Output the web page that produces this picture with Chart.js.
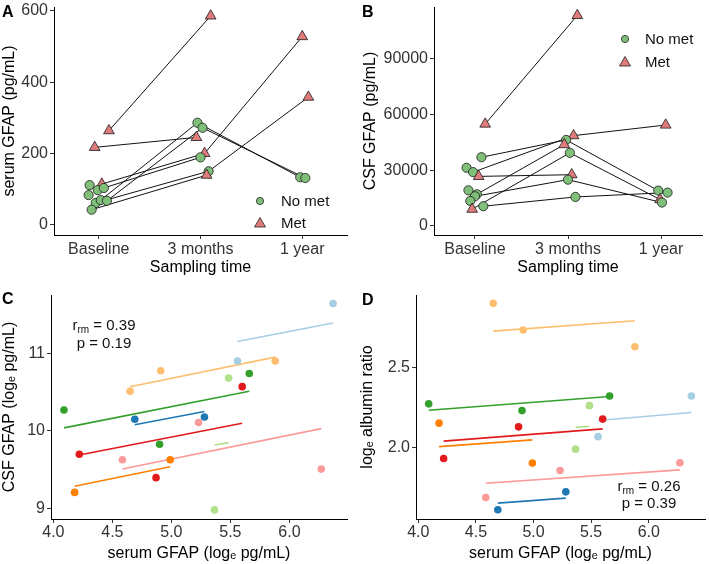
<!DOCTYPE html>
<html>
<head>
<meta charset="utf-8">
<script src="https://cdn.jsdelivr.net/npm/chart.js@4.4.1/dist/chart.umd.min.js"></script>
<style>
  body { margin: 0; width: 709px; height: 564px; position: relative; background: #fff; overflow: hidden;
         font-family: 'Liberation Sans', Arial, Helvetica, sans-serif; color: #111; }
  canvas { position: absolute; }
  .tag { position: absolute; font-weight: bold; font-size: 16px; line-height: 16px; color: #000; }
  .txt { position: absolute; font-size: 15px; line-height: 18px; white-space: nowrap; color: #111; }
  .note { position: absolute; font-size: 15px; line-height: 18px; text-align: center; color: #111; }
  .note sub { font-size: 10px; line-height: 0; vertical-align: -3px; }
  .mk { position: absolute; }
</style>
</head>
<body>
<canvas id="chartA" width="354" height="290" style="left:0;top:0"></canvas>
<canvas id="chartB" width="355" height="290" style="left:354px;top:0"></canvas>
<canvas id="chartC" width="354" height="274" style="left:0;top:290px"></canvas>
<canvas id="chartD" width="355" height="274" style="left:354px;top:290px"></canvas>

<div class="tag" style="left:2px;top:4px">A</div>
<div class="tag" style="left:362px;top:4px">B</div>
<div class="tag" style="left:2px;top:291px">C</div>
<div class="tag" style="left:362px;top:292px">D</div>

<!-- legends -->
<svg class="mk" style="left:253px;top:194px" width="14" height="14"><circle cx="7" cy="7" r="3.6" fill="#80bf7a" stroke="#222" stroke-width="0.8"/></svg>
<div class="txt" style="left:281px;top:192px">No met</div>
<svg class="mk" style="left:253px;top:216px" width="14" height="14"><polygon points="7,1.5 12.5,11 1.5,11" fill="#df7b7b" stroke="#222" stroke-width="0.8"/></svg>
<div class="txt" style="left:281px;top:214px">Met</div>

<svg class="mk" style="left:618px;top:32px" width="14" height="14"><circle cx="7" cy="7" r="3.6" fill="#80bf7a" stroke="#222" stroke-width="0.8"/></svg>
<div class="txt" style="left:645px;top:30px">No met</div>
<svg class="mk" style="left:618px;top:55px" width="14" height="14"><polygon points="7,1.5 12.5,11 1.5,11" fill="#df7b7b" stroke="#222" stroke-width="0.8"/></svg>
<div class="txt" style="left:645px;top:53px">Met</div>

<!-- repeated-measures correlation notes -->
<div class="note" style="left:54px;top:316px;width:100px">r<sub>rm</sub> = 0.39<br>p = 0.19</div>
<div class="note" style="left:599px;top:477px;width:100px;line-height:17px">r<sub>rm</sub> = 0.26<br>p = 0.39</div>

<script>
const timeLabels = ['Baseline', '3 months', '1 year'];

// A: serum GFAP (pg/mL); x = sampling time incl. jitter, patient 0 = single sample
const serumTime    = [1.10, 0.96, 1.03, 0.91, 0.90, 0.99, 1.05, 0.97, 1.02, 1.08, 0.93,
                      2.10, 1.97, 2.02, 1.96, 2.04, 2.00, 2.08, 2.06,
                      3.00, 3.06, 2.98, 3.03];
const serumValue   = [264, 217, 114, 111, 83, 97, 103, 61, 69, 67, 42,
                      586, 286, 272, 245, 200, 189, 150, 139,
                      528, 358, 133, 131];
const serumMet     = [1, 1, 1, 0, 0, 0, 0, 0, 0, 0, 0,
                      1, 0, 0, 1, 1, 0, 0, 1,
                      1, 1, 0, 0];
const serumPatient = [1, 2, 5, 0, 0, 0, 6, 7, 3, 4, 8,
                      1, 3, 4, 2, 5, 6, 7, 8,
                      5, 7, 3, 4];

// B: CSF GFAP (pg/mL)
const csfTime    = [1.11, 1.07, 0.91, 0.98, 1.04, 0.93, 1.02, 1.00, 0.95, 0.97, 1.09,
                    2.10, 2.06, 1.98, 1.96, 2.02, 2.04, 2.00, 2.08,
                    3.05, 2.97, 3.07, 2.99, 3.01];
const csfValue   = [54850, 36960, 31280, 28930, 26620, 19120, 16980, 15910, 13390, 8950, 10550,
                    113400, 48590, 46290, 43770, 39320, 27530, 24860, 15540,
                    54320, 18960, 17890, 14140, 12530];
const csfMet     = [1, 0, 0, 0, 1, 0, 0, 0, 0, 1, 0,
                    1, 1, 0, 1, 0, 1, 0, 0,
                    1, 0, 0, 1, 0];
const csfPatient = [1, 2, 0, 3, 4, 0, 5, 7, 0, 6, 8,
                    1, 3, 2, 5, 6, 4, 7, 8,
                    3, 2, 8, 6, 7];

// C / D: log-scale values per sample, coloured by patient
const patientColors = ['#a6cee3', '#1f78b4', '#b2df8a', '#33a02c', '#fb9a99', '#e31a1c', '#fdbf6f', '#ff7f00'];
const logPatient = [0, 0, 1, 1, 2, 2, 3, 3, 3, 4, 4, 4, 5, 5, 5, 6, 6, 6, 7, 7];
const logSerum   = [5.56, 6.37, 4.69, 5.28, 5.365, 5.485, 4.09, 4.90, 5.66, 4.585, 5.23, 6.27,
                    4.22, 4.87, 5.60, 4.65, 4.91, 5.88, 4.18, 4.99];
const logCsf     = [10.90, 11.64, 10.15, 10.18, 8.985, 10.68, 10.27, 9.83, 10.74, 9.63, 10.11, 9.51,
                    9.70, 9.40, 10.57, 10.51, 10.775, 10.90, 9.21, 9.63];
const logAlbumin = [2.068, 2.321, 1.613, 1.724, 1.99, 2.261, 2.272, 2.23, 2.321, 1.689, 1.857, 1.905,
                    1.932, 2.129, 2.177, 2.898, 2.732, 2.628, 2.152, 1.903];

// rmcorr fitted lines, value at each patient's lowest / highest serum GFAP
const csfFitStart = [11.15, 10.08, 9.82, 10.04, 9.51, 9.69, 10.57, 9.29];
const csfFitEnd   = [11.39, 10.25, 9.85, 10.51, 10.03, 10.10, 10.95, 9.54];
const albFitStart = [2.168, 1.654, 2.127, 2.232, 1.778, 2.040, 2.725, 2.006];
const albFitEnd   = [2.218, 1.685, 2.131, 2.318, 1.861, 2.116, 2.790, 2.048];

const NO_MET = '#80bf7a';
const MET = '#df7b7b';

Chart.defaults.font.family = "'Liberation Sans', Arial, Helvetica, sans-serif";
Chart.defaults.animation = false;

function makeAxis(o) {
  return {
    type: 'linear',
    position: o.pos,
    min: o.min,
    max: o.max,
    afterBuildTicks: s => { s.ticks = o.ticks.map(v => ({ value: v })); },
    afterFit: s => {
      if (o.pos === 'bottom') s.height = o.size; else s.width = o.size;
      s.paddingTop = s.paddingBottom = s.paddingLeft = s.paddingRight = 0;
    },
    border: { display: true, color: '#000', width: 1 },
    grid: { display: true, drawOnChartArea: false, drawTicks: true, tickLength: 4, tickColor: '#333', tickWidth: 1 },
    ticks: { color: '#333', font: { size: 16 }, padding: o.tickPad, autoSkip: false, maxRotation: 0, callback: o.fmt },
    title: { display: true, text: o.title, color: '#000', font: { size: 16 }, padding: o.titlePad },
  };
}

function baseOptions(x, y, padRight) {
  return {
    responsive: false,
    animation: false,
    layout: { padding: { top: 5, right: padRight, left: 0, bottom: 0 } },
    plugins: { legend: { display: false }, tooltip: { enabled: false } },
    scales: { x, y },
  };
}

// ---- A & B: paired samples over time ----
function timeDatasets(times, values, met, patients) {
  const sets = [{
    data: times.map((t, i) => ({ x: t, y: values[i] })),
    pointStyle: met.map(m => (m ? 'triangle' : 'circle')),
    pointRadius: met.map(m => (m ? 6.2 : 4.6)),
    pointBackgroundColor: met.map(m => (m ? MET : NO_MET)),
    pointBorderColor: '#1a1a1a',
    pointBorderWidth: 0.8,
    showLine: false,
    order: 0,
  }];
  const ids = [...new Set(patients)].filter(p => p > 0);
  ids.forEach(p => {
    const pts = times.map((t, i) => ({ x: t, y: values[i], p: patients[i] }))
      .filter(d => d.p === p)
      .sort((a, b) => a.x - b.x);
    sets.push({ data: pts, showLine: true, borderColor: '#111', borderWidth: 1, pointRadius: 0, order: 1 });
  });
  return sets;
}

const timeFmt = v => timeLabels[Math.round(v) - 1];

new Chart(document.getElementById('chartA'), {
  type: 'scatter',
  data: { datasets: timeDatasets(serumTime, serumValue, serumMet, serumPatient) },
  options: baseOptions(
    makeAxis({ pos: 'bottom', min: 0.56, max: 3.44, ticks: [1, 2, 3], size: 55, tickPad: 1, fmt: timeFmt,
               title: 'Sampling time', titlePad: { top: 0, bottom: 13 } }),
    makeAxis({ pos: 'left', min: -29, max: 611, ticks: [0, 200, 400, 600], size: 54, tickPad: 2, fmt: v => v,
               title: 'serum GFAP (pg/mL)', titlePad: { top: 0, bottom: 0 } }),
    7),
});

new Chart(document.getElementById('chartB'), {
  type: 'scatter',
  data: { datasets: timeDatasets(csfTime, csfValue, csfMet, csfPatient) },
  options: baseOptions(
    makeAxis({ pos: 'bottom', min: 0.56, max: 3.44, ticks: [1, 2, 3], size: 55, tickPad: 1, fmt: timeFmt,
               title: 'Sampling time', titlePad: { top: 0, bottom: 13 } }),
    makeAxis({ pos: 'left', min: -4970, max: 117940, ticks: [0, 30000, 60000, 90000], size: 80, tickPad: 2, fmt: v => v,
               title: 'CSF GFAP (pg/mL)', titlePad: { top: 7, bottom: 0 } }),
    2),
});

// ---- C & D: repeated-measures correlation ----
function corrDatasets(yValues, fitStart, fitEnd) {
  const sets = [{
    data: logSerum.map((x, i) => ({ x, y: yValues[i] })),
    pointStyle: 'circle',
    pointRadius: 3.8,
    pointBackgroundColor: logPatient.map(p => patientColors[p]),
    pointBorderWidth: 0,
    showLine: false,
    order: 0,
  }];
  patientColors.forEach((col, p) => {
    const xs = logSerum.filter((x, i) => logPatient[i] === p);
    sets.push({
      data: [{ x: Math.min(...xs), y: fitStart[p] }, { x: Math.max(...xs), y: fitEnd[p] }],
      showLine: true, borderColor: col, borderWidth: 1.6, pointRadius: 0, order: 1,
    });
  });
  return sets;
}

const serumLogAxis = () => makeAxis({
  pos: 'bottom', min: 3.98, max: 6.488, ticks: [4, 4.5, 5, 5.5, 6], size: 45, tickPad: 0,
  fmt: v => v.toFixed(1), title: 'serum GFAP (log\u2091 pg/mL)', titlePad: { top: 0, bottom: 1 },
});

new Chart(document.getElementById('chartC'), {
  type: 'scatter',
  data: { datasets: corrDatasets(logCsf, csfFitStart, csfFitEnd) },
  options: baseOptions(
    serumLogAxis(),
    makeAxis({ pos: 'left', min: 8.868, max: 11.749, ticks: [9, 10, 11], size: 51, tickPad: 2, fmt: v => v,
               title: 'CSF GFAP (log\u2091 pg/mL)', titlePad: { top: 0, bottom: 0 } }),
    7),
});

new Chart(document.getElementById('chartD'), {
  type: 'scatter',
  data: { datasets: corrDatasets(logAlbumin, albFitStart, albFitEnd) },
  options: baseOptions(
    serumLogAxis(),
    makeAxis({ pos: 'left', min: 1.555, max: 2.95, ticks: [2, 2.5], size: 62, tickPad: 2, fmt: v => v.toFixed(1),
               title: 'log\u2091 albumin ratio', titlePad: { top: 4, bottom: 0 } }),
    2),
});
</script>
</body>
</html>
